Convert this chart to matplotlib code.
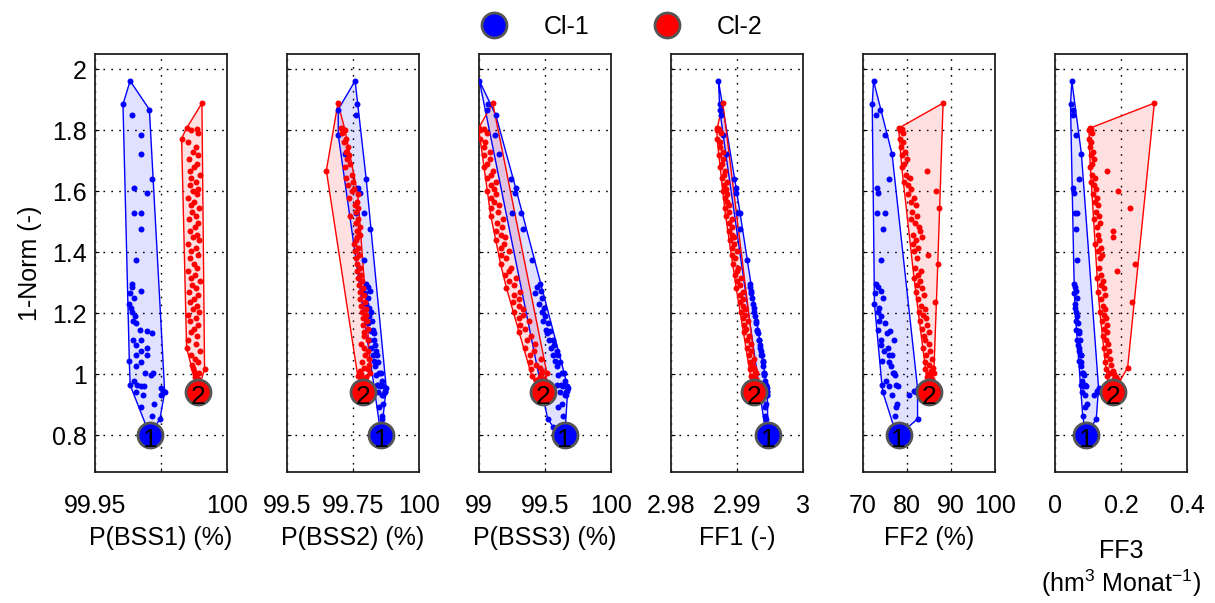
import numpy as np
import matplotlib
matplotlib.use('Agg')
import matplotlib.pyplot as plt
from matplotlib.lines import Line2D

plt.rcParams['font.family'] = ['Liberation Sans', 'DejaVu Sans']
plt.rcParams['mathtext.fontset'] = 'custom'
plt.rcParams['mathtext.rm'] = 'Liberation Sans'
plt.rcParams['mathtext.it'] = 'Liberation Sans:italic'

# ---------------- data ----------------
cluster_names = ['Cl-1', 'Cl-2']
cluster_colors = ['#0000ff', '#ff0000']

# cluster 1
c1_norm = [1.962,1.885,1.868,1.850,1.785,1.723,1.640,1.611,1.593,1.530,1.528,1.475,1.375,1.295,1.285,1.266,1.273,1.251,1.232,1.219,
           1.204,1.192,1.175,1.169,1.146,1.141,1.134,1.112,1.112,1.097,1.087,1.076,1.062,1.062,1.043,1.041,1.028,1.003,0.999,1.005,
           0.965,0.978,0.964,0.961,0.961,0.942,0.932,0.955,0.945,0.932,0.942,0.892,0.902,0.864,0.854,0.829,0.800]
c1_bss1 = [99.9633,99.9606,99.9706,99.9640,99.9673,99.9673,99.9716,99.9648,99.9696,99.9648,99.9673,99.9673,99.9655,99.9639,99.9641,99.9633,99.9673,99.9648,99.9630,99.9635,
           99.9640,99.9652,99.9645,99.9655,99.9670,99.9696,99.9716,99.9643,99.9673,99.9655,99.9696,99.9673,99.9655,99.9696,99.9630,99.9673,99.9655,99.9691,99.9711,99.9718,
           99.9633,99.9648,99.9660,99.9673,99.9686,99.9655,99.9683,99.9749,99.9759,99.9751,99.9764,99.9673,99.9723,99.9716,99.9746,99.9696,99.9708]
c1_bss2 = [99.758,99.764,99.694,99.762,99.694,99.720,99.800,99.770,99.775,99.763,99.790,99.813,99.790,99.800,99.805,99.795,99.815,99.808,99.800,99.812,
           99.818,99.810,99.822,99.806,99.825,99.818,99.830,99.812,99.828,99.835,99.820,99.838,99.826,99.842,99.830,99.846,99.835,99.850,99.838,99.855,
           99.845,99.858,99.840,99.862,99.852,99.845,99.865,99.876,99.870,99.860,99.872,99.850,99.862,99.858,99.860,99.855,99.856]
c1_bss3 = [99.003,99.070,99.060,99.127,99.120,99.150,99.240,99.278,99.273,99.319,99.253,99.330,99.400,99.463,99.440,99.425,99.470,99.480,99.455,99.490,
           99.475,99.500,99.488,99.520,99.505,99.540,99.515,99.560,99.530,99.570,99.545,99.590,99.560,99.600,99.575,99.615,99.590,99.630,99.600,99.645,
           99.620,99.655,99.590,99.665,99.640,99.610,99.660,99.673,99.668,99.650,99.660,99.600,99.630,99.640,99.520,99.560,99.650]
c1_ff1 = [2.98719,2.98742,2.98739,2.98760,2.98790,2.98830,2.98960,2.98987,2.98990,2.99038,2.99010,2.99050,2.99144,2.99190,2.99195,2.99205,2.99215,2.99225,2.99235,2.99250,
          2.99265,2.99275,2.99285,2.99290,2.99310,2.99300,2.99320,2.99330,2.99340,2.99345,2.99355,2.99360,2.99370,2.99380,2.99390,2.99395,2.99400,2.99410,2.99415,2.99405,
          2.99430,2.99425,2.99435,2.99440,2.99432,2.99445,2.99455,2.99450,2.99458,2.99460,2.99455,2.99430,2.99440,2.99425,2.99445,2.99420,2.99468]
c1_ff2 = [72.4,72.1,73.8,73.0,74.9,76.6,75.8,73.1,73.3,73.2,74.9,74.6,74.0,73.0,73.4,72.8,74.2,74.6,72.6,73.6,
          73.3,74.0,73.7,75.0,73.5,76.2,75.5,74.0,77.0,74.2,75.6,74.8,76.0,76.7,74.4,75.9,76.4,77.1,77.3,76.8,
          74.3,75.2,77.5,76.0,78.0,74.5,76.5,82.4,81.5,80.5,82.0,77.4,77.8,77.3,82.4,77.0,78.1]
c1_ff3 = [0.051,0.047,0.056,0.054,0.064,0.080,0.072,0.056,0.057,0.060,0.066,0.064,0.066,0.058,0.062,0.059,0.064,0.066,0.060,0.062,
          0.064,0.066,0.063,0.069,0.065,0.074,0.072,0.068,0.075,0.070,0.074,0.072,0.078,0.080,0.074,0.078,0.080,0.082,0.088,0.085,
          0.080,0.083,0.090,0.086,0.094,0.082,0.090,0.132,0.126,0.118,0.130,0.090,0.096,0.084,0.125,0.090,0.094]

# cluster 2
c2_norm = [1.889,1.807,1.805,1.800,1.790,1.773,1.760,1.745,1.730,1.718,1.705,1.690,1.680,1.668,1.655,1.645,1.630,1.620,1.608,1.600,
           1.590,1.578,1.565,1.555,1.545,1.532,1.520,1.508,1.495,1.483,1.470,1.458,1.450,1.440,1.428,1.415,1.403,1.392,1.380,1.363,
           1.350,1.338,1.325,1.315,1.305,1.292,1.283,1.270,1.260,1.248,1.236,1.225,1.215,1.205,1.195,1.185,1.175,1.163,1.150,1.138,
           1.125,1.112,1.100,1.087,1.075,1.063,1.050,1.040,1.030,1.021,1.018,1.010,1.005,1.000,0.994,0.990,0.985,0.980,0.970,0.960,0.943]
c2_bss1 = [99.9905,99.9847,99.9887,99.9863,99.9892,99.9828,99.9854,99.9883,99.9870,99.9889,99.9856,99.9885,99.9874,99.9861,99.9896,99.9865,99.9881,99.9859,99.9892,99.9870,
           99.9887,99.9854,99.9876,99.9863,99.9894,99.9867,99.9883,99.9856,99.9889,99.9878,99.9861,99.9885,99.9872,99.9894,99.9852,99.9881,99.9865,99.9892,99.9859,99.9874,
           99.9887,99.9854,99.9878,99.9863,99.9896,99.9867,99.9883,99.9856,99.9889,99.9876,99.9861,99.9885,99.9870,99.9894,99.9852,99.9881,99.9859,99.9892,99.9874,99.9865,
           99.9887,99.9854,99.9883,99.9847,99.9896,99.9863,99.9878,99.9889,99.9868,99.9870,99.9915,99.9876,99.9894,99.9880,99.9884,99.9878,99.9890,99.9885,99.9893,99.9887,99.9890]
c2_bss2 = [99.693,99.705,99.712,99.720,99.708,99.725,99.715,99.730,99.722,99.735,99.728,99.740,99.718,99.649,99.745,99.725,99.750,99.730,99.755,99.748,
           99.768,99.735,99.765,99.758,99.770,99.762,99.740,99.768,99.760,99.776,99.764,99.775,99.766,99.762,99.752,99.768,99.758,99.772,99.760,99.766,
           99.776,99.764,99.780,99.770,99.784,99.772,99.786,99.776,99.790,99.778,99.794,99.780,99.798,99.784,99.800,99.786,99.804,99.788,99.806,99.790,
           99.792,99.808,99.782,99.790,99.808,99.795,99.810,99.785,99.812,99.790,99.805,99.775,99.816,99.780,99.768,99.798,99.785,99.792,99.800,99.795,99.788]
c2_bss3 = [99.104,98.997,99.039,99.009,99.062,99.008,99.048,99.038,99.087,99.035,99.083,99.061,99.040,99.104,99.089,99.064,99.130,99.089,99.114,99.064,
           99.131,99.091,99.115,99.155,99.092,99.142,99.089,99.180,99.136,99.172,99.128,99.165,99.195,99.132,99.191,99.165,99.229,99.165,99.207,99.163,
           99.246,99.224,99.197,99.278,99.224,99.267,99.208,99.311,99.268,99.305,99.258,99.304,99.336,99.267,99.336,99.304,99.377,99.309,99.351,99.304,
           99.396,99.361,99.424,99.350,99.414,99.384,99.470,99.389,99.429,99.463,99.393,99.481,99.514,99.472,99.400,99.461,99.490,99.430,99.490,99.440,99.487]
c2_ff1 = [2.98785,2.98700,2.98730,2.98696,2.98757,2.98698,2.98744,2.98736,2.98791,2.98733,2.98788,2.98767,2.98748,2.98814,2.98801,2.98778,2.98845,2.98806,2.98832,2.98784,
          2.98854,2.98816,2.98843,2.98885,2.98824,2.98878,2.98827,2.98920,2.98879,2.98918,2.98878,2.98917,2.98949,2.98888,2.98950,2.98927,2.98993,2.98931,2.98975,2.98933,
          2.99018,2.98997,2.98971,2.99054,2.99001,2.99046,2.98988,2.99093,2.99050,2.99089,2.99043,2.99091,2.99124,2.99056,2.99124,2.99096,2.99164,2.99103,2.99143,2.99102,
          2.99186,2.99156,2.99215,2.99150,2.99209,2.99183,2.99263,2.99190,2.99228,2.99259,2.99197,2.99278,2.99290,2.99270,2.99205,2.99260,2.99290,2.99225,2.99280,2.99235,2.99262]
c2_ff2 = [88.2,78.1,78.9,78.4,79.2,78.3,79.0,78.6,79.6,78.9,80.1,79.3,78.8,84.6,79.8,80.6,79.4,80.2,81.0,86.5,
          80.3,81.5,80.8,82.0,87.2,81.2,82.3,80.9,81.8,82.7,83.0,81.4,83.3,82.1,81.3,82.6,81.7,84.8,82.2,87.0,
          81.9,83.2,82.5,81.6,83.0,82.3,83.5,82.1,83.8,82.4,86.3,83.1,84.0,82.8,83.6,84.3,82.9,84.6,83.5,84.9,
          83.8,84.2,85.0,83.6,85.3,84.4,85.6,84.0,85.1,85.8,84.2,85.4,86.1,84.8,85.2,84.5,85.6,84.9,85.4,85.1,85.0]
c2_ff3 = [0.301,0.106,0.110,0.104,0.112,0.103,0.109,0.105,0.114,0.108,0.117,0.111,0.107,0.159,0.113,0.120,0.110,0.118,0.125,0.192,
          0.116,0.128,0.121,0.131,0.226,0.124,0.134,0.119,0.137,0.126,0.177,0.129,0.175,0.133,0.122,0.139,0.130,0.141,0.135,0.243,
          0.133,0.187,0.138,0.128,0.144,0.138,0.147,0.131,0.150,0.139,0.233,0.145,0.152,0.136,0.149,0.155,0.142,0.157,0.148,0.159,
          0.144,0.155,0.160,0.149,0.163,0.156,0.166,0.152,0.170,0.220,0.155,0.175,0.168,0.180,0.158,0.185,0.178,0.190,0.182,0.163,0.177]

panel_xlabels = ['P(BSS1) (%)', 'P(BSS2) (%)', 'P(BSS3) (%)', 'FF1 (-)', 'FF2 (%)',
                 'FF3\n(hm$^3$ Monat$^{-1}$)']
panel_xlims = [(99.95, 100), (99.5, 100), (99, 100), (2.98, 3), (70, 100), (0, 0.4)]
panel_xticks = [[99.95, 99.975, 100], [99.5, 99.75, 100], [99, 99.5, 100],
                [2.98, 2.99, 3], [70, 80, 90, 100], [0, 0.2, 0.4]]
panel_xticklabels = [['99.95', '', '100'], ['99.5', '99.75', '100'], ['99', '99.5', '100'],
                     ['2.98', '2.99', '3'], ['70', '80', '90', '100'], ['0', '0.2', '0.4']]
ylim = (0.68, 2.05)
yticks = [0.8, 1, 1.2, 1.4, 1.6, 1.8, 2]
yticklabels = ['0.8', '1', '1.2', '1.4', '1.6', '1.8', '2']
ylabel = '1-Norm (-)'

c1_params = [c1_bss1, c1_bss2, c1_bss3, c1_ff1, c1_ff2, c1_ff3]
c2_params = [c2_bss1, c2_bss2, c2_bss3, c2_ff1, c2_ff2, c2_ff3]
clusters = [(c1_norm, c1_params), (c2_norm, c2_params)]


def convex_hull(px, py):
    pts = sorted(set(zip(px, py)))
    if len(pts) < 3:
        return pts

    def cross(o, a, b):
        return (a[0] - o[0]) * (b[1] - o[1]) - (a[1] - o[1]) * (b[0] - o[0])
    lower = []
    for p in pts:
        while len(lower) >= 2 and cross(lower[-2], lower[-1], p) <= 0:
            lower.pop()
        lower.append(p)
    upper = []
    for p in reversed(pts):
        while len(upper) >= 2 and cross(upper[-2], upper[-1], p) <= 0:
            upper.pop()
        upper.append(p)
    return lower[:-1] + upper[:-1]


W, H = 1215, 603
fig = plt.figure(figsize=(W / 100, H / 100), dpi=100)
FS = 18

for i in range(6):
    left = 95 + 192 * i
    ax = fig.add_axes([left / W, 131 / H, 132 / W, 418 / H])
    xl = panel_xlims[i]
    ax.set_xlim(xl)
    ax.set_ylim(ylim)
    ax.set_axisbelow(True)
    ax.grid(True, linestyle=(0, (1.2, 4.5)), color='k', linewidth=1.0)

    for ci, (norm, params) in enumerate(clusters):
        col = cluster_colors[ci]
        x = np.asarray(params[i], float)
        y = np.asarray(norm, float)
        nx = (x - xl[0]) / (xl[1] - xl[0])
        ny = (y - ylim[0]) / (ylim[1] - ylim[0])
        hull = convex_hull(list(nx), list(ny))
        hx = np.array([p[0] for p in hull]) * (xl[1] - xl[0]) + xl[0]
        hy = np.array([p[1] for p in hull]) * (ylim[1] - ylim[0]) + ylim[0]
        ax.fill(hx, hy, facecolor=col, alpha=0.12, edgecolor='none', zorder=2)
        ax.plot(np.append(hx, hx[0]), np.append(hy, hy[0]), color=col, lw=1.0, zorder=3)
        ax.plot(x, y, 'o', color=col, ms=4.3, mew=0, zorder=4)

    for ci, (norm, params) in enumerate(clusters):
        col = cluster_colors[ci]
        k = int(np.argmin(norm))
        bx, by = params[i][k], norm[k]
        ax.plot([bx], [by], 'o', ms=18, mfc=col, mec='#555555', mew=2, zorder=6)
        ax.annotate(str(ci + 1), (bx, by), xytext=(0, -3.5), textcoords='offset points',
                    ha='center', va='center', fontsize=19, color='k', zorder=7)

    ax.set_xticks(panel_xticks[i])
    ax.set_xticklabels(panel_xticklabels[i], fontsize=FS)
    ax.set_yticks(yticks)
    if i == 0:
        ax.set_yticklabels(yticklabels, fontsize=FS)
        ax.set_ylabel(ylabel, fontsize=FS)
        ax.yaxis.set_label_coords(-0.49, 0.5)
        ax.yaxis.label.set_va('center')
    else:
        ax.set_yticklabels([])
    ax.tick_params(axis='x', direction='in', length=3, pad=16)
    ax.tick_params(axis='y', direction='in', length=3, pad=6)
    for s in ax.spines.values():
        s.set_linewidth(1.3)
        s.set_color('#222222')
    ax.set_xlabel(panel_xlabels[i], fontsize=FS)
    ax.xaxis.label.set_va('center')
    if i == 5:
        ax.xaxis.set_label_coords(0.5, -0.232)
    else:
        ax.xaxis.set_label_coords(0.5, -0.158)

handles = [Line2D([], [], ls='none', marker='o', ms=18, mfc=c, mec='#555555', mew=2, label=n)
           for n, c in zip(cluster_names, cluster_colors)]
fig.legend(handles=handles, loc='center', bbox_to_anchor=(0.512, 0.955), ncol=2, frameon=False,
           fontsize=FS, handlelength=1.0, handletextpad=1.5, columnspacing=2.6)

fig.savefig('out.png', dpi=100)
